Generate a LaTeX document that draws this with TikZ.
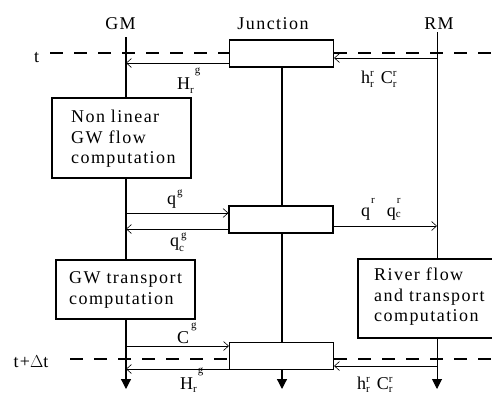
\documentclass[tikz,border=0pt]{standalone}
\usepackage{fontspec}
\setmainfont{Liberation Serif}[LetterSpace=8]
\usetikzlibrary{arrows.meta}
\newcommand{\mysub}[2][0.25em]{\raisebox{-#1}{\fontsize{11}{11}\selectfont #2}}
\newcommand{\mysup}[2][0.45em]{\raisebox{#1}{\fontsize{11}{11}\selectfont #2}}
\begin{document}
\begin{tikzpicture}[x=1pt,y=-1pt,
  lbl/.style={font=\fontsize{18}{20.5}\selectfont, inner sep=0pt},
  box/.style={draw, line width=1.1pt, fill=white, inner sep=0pt},
  jbox/.style={draw, line width=1.1pt, fill=white, inner sep=0pt, minimum width=104pt, minimum height=27pt},
  vline/.style={line width=1.2pt},
  dl/.style={line width=2.2pt, dash pattern=on 13pt off 11pt},
  ar/.style={line width=0.6pt, -{Straight Barb[length=5pt,width=9pt]}},
  dn/.style={-{Triangle[length=10pt,width=10pt]}}]
\useasboundingbox (0,0) rectangle (492,394);
\clip (0,0) rectangle (492,394);
% column headings
\node[lbl, anchor=base] (gm) at (120.5,29) {GM};
\node[lbl, anchor=base] (jn) at (273,29) {Junction};
\node[lbl, anchor=base] (rm) at (439,29) {RM};
% axis coordinates
\coordinate (gmtop) at (126,37);
\coordinate (gmbot) at (126,389);
\coordinate (jtop) at (282,60);
\coordinate (jbot) at (282,389);
\coordinate (rmtop) at (437,32);
\coordinate (rmbot) at (437,389);
\draw[vline, dn] (gmtop) -- (gmbot);
\draw[vline, dn] (jtop) -- (jbot);
\draw[line width=1pt, dn] (rmtop) -- (rmbot);
% boxes
\node[jbox] (jt) at (281.5,53.5) {};
\node[jbox] (jm) at (281,219.5) {};
\node[jbox] (jb) at (281.5,356) {};
\node[box, minimum width=139pt, minimum height=80pt] (nl) at (121.5,138) {};
\node[lbl, align=left, anchor=west] (nlt) at (71,139) {Non linear\\GW flow\\computation};
\node[box, minimum width=139pt, minimum height=59pt] (gwt) at (125.5,289.5) {};
\node[lbl, align=left, anchor=west] (gwtt) at (69,290) {GW transport\\computation};
\node[box, minimum width=142pt, minimum height=79pt] (riv) at (429,298.5) {};
\node[lbl, align=left, anchor=west] (rivt) at (374,297) {River flow\\and transport\\computation};
% time lines
\coordinate (t0) at (50,53);
\coordinate (t0r) at (492,53);
\coordinate (t1) at (70,359);
\coordinate (t1r) at (492,359);
\node[lbl, anchor=base] (tl) at (36.5,62) {t};
\node[lbl, anchor=base] (tdl) at (31,367) {t+$\Delta$t};
\draw[dl] (t0) -- (jt.west |- t0);
\draw[dl] (jt.east |- t0r) -- (t0r);
\draw[dl] (t1) -- (jb.west |- t1);
\draw[dl] (jb.east |- t1r) -- (t1r);
% exchange arrows
\coordinate (a1) at (126,63);
\coordinate (a2) at (437,58);
\coordinate (a3) at (126,213);
\coordinate (a4) at (126,229);
\coordinate (a5) at (437,226);
\coordinate (a6) at (126,346);
\coordinate (a7) at (126,369);
\coordinate (a8) at (437,366);
\draw[ar] (jt.west |- a1) -- (a1);
\draw[ar] (a2) -- (jt.east |- a2);
\draw[ar] (a3) -- (jm.west |- a3);
\draw[ar] (jm.west |- a4) -- (a4);
\draw[ar] (jm.east |- a5) -- (a5);
\draw[ar] (a6) -- (jb.west |- a6);
\draw[ar] (jb.west |- a7) -- (a7);
\draw[ar] (a8) -- (jb.east |- a8);
% labels
\node[lbl, anchor=base west] (l1) at (177,89) {H\mysub{r}\kern1pt\mysup[0.85em]{g}};
\node[lbl, anchor=base west] (l2) at (361,83) {h\rlap{\mysub{r}}\mysup[0.35em]{r}\hspace{7pt}C\rlap{\mysub{r}}\mysup[0.35em]{r}};
\node[lbl, anchor=base west] (l3) at (167,204) {q\kern1pt\mysup[0.45em]{g}};
\node[lbl, anchor=base west] (l4) at (170,246) {q\rlap{\mysub[0.3em]{c}}\kern2pt\mysup[0.4em]{g}};
\node[lbl, anchor=base west] (l5) at (361,216) {q\kern1pt\mysup[0.7em]{r}\hspace{12pt}q\rlap{\mysub[0.1em]{c}}\kern1pt\mysup[0.7em]{r}};
\node[lbl, anchor=base west] (l6) at (177,343) {C\kern2pt\mysup[0.8em]{g}};
\node[lbl, anchor=base west] (l7) at (180,389) {H\mysub[0.18em]{r}\kern1pt\mysup[0.85em]{g}};
\node[lbl, anchor=base west] (l8) at (357,389) {h\rlap{\mysub[0.18em]{r}}\mysup[0.35em]{r}\hspace{7pt}C\rlap{\mysub[0.18em]{r}}\mysup[0.35em]{r}};
\end{tikzpicture}
\end{document}
